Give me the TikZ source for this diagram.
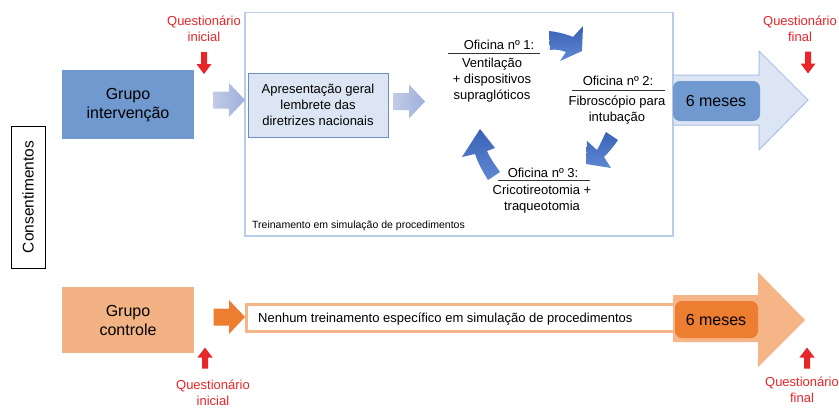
\documentclass[tikz,border=0pt]{standalone}
\usepackage{fontspec}
\setmainfont{Liberation Sans}
\definecolor{qred}{HTML}{E8262A}
\definecolor{gblue}{HTML}{7099CF}
\definecolor{lblue}{HTML}{DCE5F3}
\definecolor{lbluebd}{HTML}{A9C0E4}
\definecolor{framebd}{HTML}{B9CDEA}
\definecolor{apbd}{HTML}{6F8CC6}
\definecolor{arrA}{HTML}{C2CAE6}
\definecolor{arrB}{HTML}{9EB0DC}
\definecolor{dblueA}{HTML}{3A62B6}
\definecolor{dblueB}{HTML}{5F88D2}
\definecolor{gorange}{HTML}{F2B283}
\definecolor{dorange}{HTML}{ED7D31}
\definecolor{lorange}{HTML}{F5B586}
\tikzset{
  txt/.style={inner sep=0pt, outer sep=0pt, align=center, font=\fontsize{13}{16}\selectfont},
  bigtxt/.style={inner sep=0pt, outer sep=0pt, align=center, font=\fontsize{16}{18.5}\selectfont},
  redtxt/.style={txt, text=qred},
  ofline/.style={line width=0.8pt, black!80},
  pics/reddown/.style={code={\fill[qred] (-3,0) -- (3,0) -- (3,12) -- (7.5,12) -- (0,22) -- (-7.5,12) -- (-3,12) -- cycle;}},
  pics/redup/.style={code={\fill[qred] (-3,0) -- (3,0) -- (3,-11) -- (7.5,-11) -- (0,-21) -- (-7.5,-11) -- (-3,-11) -- cycle;}},
  pics/blockarr/.style={code={\path[pic actions] (0,-8.5) -- (15.5,-8.5) -- (15.5,-17) -- (31.5,0) -- (15.5,17) -- (15.5,8.5) -- (0,8.5) -- cycle;}},
  curv/.style={top color=dblueA, bottom color=dblueB, draw=none}
}
\begin{document}
\begin{tikzpicture}[x=1pt,y=-1pt]
\useasboundingbox[fill=white] (0,0) rectangle (839,408);

% Consentimentos
\node[draw=black, line width=0.8pt, minimum width=34pt, minimum height=142pt, inner sep=0pt] (cons) at (28,197) {};
\node[rotate=90, inner sep=0pt, font=\fontsize{15.5}{18}\selectfont] (constxt) at (cons.center) {Consentimentos};

% Grupo intervencao
\node[fill=gblue, minimum width=132pt, minimum height=69pt, inner sep=0pt] (gi) at (128,104.5) {};
\node[bigtxt] (gitxt) at (128,105) {Grupo\\intervenção};

% Questionario inicial top
\node[redtxt] (qi1) at (204,28.5) {Questionário\\inicial};
\pic at (204,52) {reddown};

% training frame
\draw[framebd, line width=1.6pt] (245,12.5) rectangle (673,236);
\node[inner sep=0pt, anchor=west, font=\fontsize{10.5}{12}\selectfont] (trein) at (252,225.5) {Treinamento em simulação de procedimentos};

% light arrows
\pic[left color=arrA, right color=arrB] at (213.5,100) {blockarr};
\pic[left color=arrA, right color=arrB] at (393.5,101.5) {blockarr};

% Apresentacao
\node[fill=lblue, draw=apbd, line width=1pt, minimum width=140pt, minimum height=64pt, inner sep=0pt] (ap) at (318,105) {};
\node[txt] (aptxt) at (318,104.5) {Apresentação geral\\lembrete das\\diretrizes nacionais};

% Oficinas
\node[txt] (of1t) at (499,44.5) {Oficina nº 1:};
\draw[ofline] (448,53) -- (540,53);
\node[txt] (of1b) at (492,80) {Ventilação\\+ dispositivos\\supraglóticos};

\node[txt] (of2t) at (618,81) {Oficina nº 2:};
\draw[ofline] (572,90) -- (665,90);
\node[txt] (of2b) at (617,110) {Fibroscópio para\\intubação};

\node[txt] (of3t) at (543,172.5) {Oficina nº 3:};
\draw[ofline] (498,180.5) -- (590,180.5);
\node[txt] (of3b) at (542,199.5) {Cricotireotomia +\\traqueotomia};

% curved blue arrows
\shade[curv] (549,31) .. controls (558,32) and (566,34) .. (573,37) -- (583,26) -- (582,51) -- (560,61) -- (566,52) .. controls (561,50) and (555,49) .. (550,50) -- cycle;
\shade[curv] (606,132) -- (618,140) .. controls (614,146) and (609,152) .. (604,157) -- (611,168) -- (586,164) -- (587,141) -- (597,150) .. controls (600,145) and (603,138) .. (606,132) -- cycle;
\shade[curv] (480,129) -- (495,148) -- (487,151) .. controls (490,158) and (495,165) .. (500,172) -- (488,180) .. controls (483,172) and (478,163) .. (475,154) -- (462,157) -- cycle;

% big blue arrow
\filldraw[fill=lblue, draw=lbluebd, line width=1pt] (673,75) -- (759,75) -- (759,51) -- (808,100) -- (759,150) -- (759,125) -- (673,125) -- cycle;
\node[fill=gblue, rounded corners=7pt, minimum width=87pt, minimum height=40pt, inner sep=0pt] (m1) at (716.5,101) {};
\node[bigtxt] (m1txt) at (716,101) {6 meses};

% Questionario final top
\node[redtxt] (qf1) at (800,28.5) {Questionário\\final};
\pic at (808,51.5) {reddown};

% Grupo controle
\node[fill=gorange, minimum width=132pt, minimum height=66pt, inner sep=0pt] (gc) at (128,320) {};
\node[bigtxt] (gctxt) at (128,320.5) {Grupo\\controle};

% orange small arrow
\pic[fill=dorange] at (213.5,317) {blockarr};

% Nenhum box
\draw[lorange, line width=3.5pt, fill=white] (246.5,304.5) rectangle (676,331.5);
\node[inner sep=0pt, anchor=west, font=\fontsize{13}{16}\selectfont] (nen) at (258,319.5) {Nenhum treinamento específico em simulação de procedimentos};

% big orange arrow
\fill[lorange] (673,295) -- (758,295) -- (758,272) -- (805,320) -- (758,367) -- (758,342) -- (673,342) -- cycle;
\node[fill=dorange, rounded corners=7pt, minimum width=83pt, minimum height=37pt, inner sep=0pt] (m2) at (716.5,319.5) {};
\node[bigtxt] (m2txt) at (716,320) {6 meses};

% Questionario bottom
\pic at (205,368.5) {redup};
\node[redtxt] (qi2) at (213,392.5) {Questionário\\inicial};
\pic at (807,368.5) {redup};
\node[redtxt] (qf2) at (802,389.5) {Questionário\\final};
\end{tikzpicture}
\end{document}
